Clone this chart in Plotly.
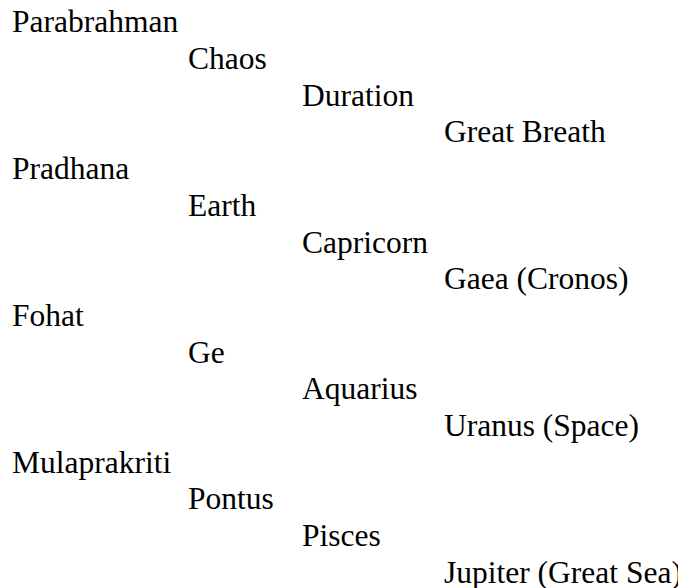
import plotly.graph_objects as go

# Hierarchy data: label and indentation level
labels = [
    "Parabrahman", "Chaos", "Duration", "Great Breath",
    "Pradhana", "Earth", "Capricorn", "Gaea (Cronos)",
    "Fohat", "Ge", "Aquarius", "Uranus (Space)",
    "Mulaprakriti", "Pontus", "Pisces", "Jupiter (Great Sea)",
]
levels = [0, 1, 2, 3, 0, 1, 2, 3, 0, 1, 2, 3, 0, 1, 2, 3]
rows = list(range(len(labels)))

# Layout: x anchor of each indentation level (axis units = px)
LEVEL_X = [4, 180, 294, 436]
xs = [LEVEL_X[l] for l in levels]

FONT = "'Liberation Serif', 'Times New Roman', Times, serif"

fig = go.Figure(
    go.Scatter(
        x=xs,
        y=rows,
        mode="text",
        text=labels,
        textposition="middle right",
        textfont=dict(family=FONT, size=31.5, color="#000000"),
        hoverinfo="skip",
        cliponaxis=False,
    )
)

row_px0 = 16.5
row_step = 36.7
H = 588
fig.update_layout(
    width=686,
    height=H,
    margin=dict(l=0, r=0, t=0, b=0),
    paper_bgcolor="white",
    plot_bgcolor="white",
    showlegend=False,
    xaxis=dict(range=[0, 686], visible=False, fixedrange=True),
    yaxis=dict(range=[(H - row_px0) / row_step, -row_px0 / row_step], visible=False, fixedrange=True),
)

fig.write_html("out.html")
